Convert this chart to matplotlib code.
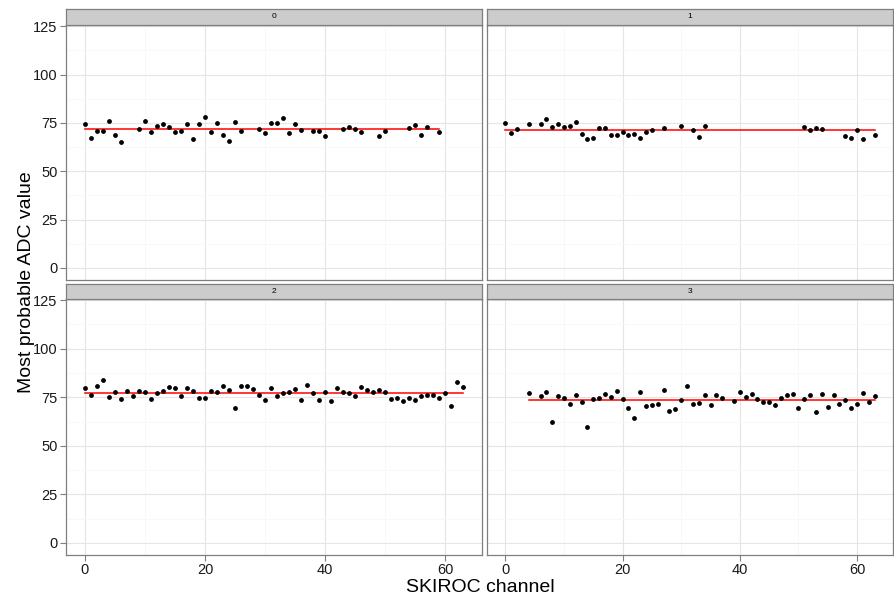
import numpy as np
import matplotlib
matplotlib.use("Agg")
from matplotlib import pyplot as plt

plt.rcParams['font.family'] = ['Liberation Sans', 'DejaVu Sans']

# 每个面板的数据 (channel, most probable ADC)
ch_0 = [0, 1, 2, 3, 4, 5, 6, 9, 10, 11, 12, 13, 14, 15, 16, 17, 18, 19, 20, 21, 22, 23, 24, 25, 26,
        29, 30, 31, 32, 33, 34, 35, 36, 38, 39, 40, 43, 44, 45, 46, 49, 50, 54, 55, 56, 57, 59]
adc_0 = [74.2, 67.3, 70.9, 70.9, 76.1, 68.9, 65.0, 71.6, 76.1, 70.4, 73.5, 74.2, 73.0, 70.4, 70.9,
         74.2, 66.8, 74.2, 78.2, 70.4, 75.1, 68.9, 65.5, 75.6, 70.9, 72.0, 69.9, 75.1, 75.1, 77.6,
         69.9, 74.5, 71.4, 70.9, 70.9, 68.3, 72.0, 73.0, 72.0, 70.4, 68.3, 70.9, 72.5, 74.0, 68.9,
         73.0, 70.4]

ch_1 = [0, 1, 2, 4, 6, 7, 8, 9, 10, 11, 12, 13, 14, 15, 16, 17, 18, 19, 20, 21, 22, 23, 24, 25,
        27, 30, 32, 33, 34, 51, 52, 53, 54, 58, 59, 60, 61, 63]
adc_1 = [74.7, 69.9, 71.6, 74.2, 74.2, 76.8, 73.0, 74.2, 73.0, 73.5, 75.6, 69.4, 66.5, 67.3, 72.2,
         72.5, 68.9, 68.9, 70.4, 68.9, 69.4, 67.3, 70.4, 71.4, 72.2, 73.5, 71.4, 67.8, 73.5, 73.0,
         71.4, 72.5, 72.0, 68.3, 67.3, 71.4, 66.8, 68.9]

ch_2 = list(range(0, 64))
adc_2 = [79.7, 76.4, 81.0, 84.1, 75.3, 77.6, 74.3, 78.1, 75.8, 78.4, 77.6, 74.3, 77.1, 78.4, 80.5,
         80.0, 75.8, 80.0, 78.1, 74.8, 74.8, 78.4, 77.6, 81.0, 78.9, 69.6, 81.0, 81.0, 79.5, 76.4,
         73.8, 80.0, 75.8, 77.1, 77.6, 79.5, 73.8, 81.5, 77.1, 73.8, 77.6, 73.2, 80.0, 77.6, 77.1,
         75.8, 80.5, 78.9, 77.6, 78.9, 77.6, 74.3, 74.8, 73.2, 74.8, 73.8, 75.8, 76.4, 76.4, 74.8,
         77.1, 70.7, 82.6, 80.5]

ch_3 = [4] + list(range(6, 38)) + list(range(39, 64))
adc_3 = [77.4,
         75.8, 77.9, 62.4, 75.8, 74.8, 71.7, 76.4, 72.7, 59.8, 74.3, 74.8, 76.9, 75.3, 78.4, 74.3,
         69.6, 64.4, 77.9, 70.7, 71.2, 71.7, 78.9, 68.1, 69.1, 73.8, 81.0,
         71.7, 72.2, 76.4, 71.2, 76.4, 74.8,
         73.2, 77.9, 75.3, 76.9, 74.3, 72.7, 72.7, 71.2, 74.8, 76.4, 76.9, 69.6, 74.3, 76.4, 67.5,
         76.9, 70.2, 76.4, 71.7, 73.8, 69.6, 71.7, 77.4, 72.7, 75.8]

# 拟合常数 (红线)
fit_level = [71.8, 71.3, 77.4, 73.6]
strip_labels = ["0", "1", "2", "3"]

chs = [ch_0, ch_1, ch_2, ch_3]
adcs = [adc_0, adc_1, adc_2, adc_3]

W, H = 894.0, 601.0
fig = plt.figure(figsize=(W / 100, H / 100), dpi=100)

# 面板位置 (像素): left, right, strip top, panel top, panel bottom
cols = [(66, 482), (487, 893)]
rows = [(9, 25, 280), (284, 299, 555)]

for k in range(4):
    r, c = k // 2, k % 2
    x0, x1 = cols[c]
    st, pt, pb = rows[r]
    ax = fig.add_axes([x0 / W, 1 - pb / H, (x1 - x0) / W, (pb - pt) / H])
    ax.set_xlim(-3.15, 66.15)
    ax.set_ylim(-6.25, 125.6)
    ax.set_xticks([0, 20, 40, 60])
    ax.set_xticks([10, 30, 50], minor=True)
    ax.set_yticks([0, 25, 50, 75, 100, 125])
    ax.set_yticks([12.5, 37.5, 62.5, 87.5, 112.5], minor=True)
    ax.grid(True, which='major', color='#E5E5E5', lw=0.8)
    ax.grid(True, which='minor', color='#F7F7F7', lw=0.6)
    ax.set_axisbelow(True)
    for s in ax.spines.values():
        s.set_color('#7F7F7F')
        s.set_linewidth(0.9)
    ax.tick_params(which='minor', length=0)
    ax.tick_params(which='major', length=4, color='#7F7F7F', width=0.8,
                   labelsize=10.5, labelcolor='#1a1a1a', pad=2)
    if r == 0:
        ax.tick_params(axis='x', length=0, labelbottom=False)
    if c == 1:
        ax.tick_params(axis='y', length=0, labelleft=False)

    ax.plot([min(chs[k]), max(chs[k])], [fit_level[k], fit_level[k]], color='red', lw=1.1, zorder=2)
    ax.scatter(chs[k], adcs[k], s=12, color='black', zorder=3, linewidths=0)

    # 灰色标题条
    sx = fig.add_axes([x0 / W, 1 - pt / H, (x1 - x0) / W, (pt - st) / H])
    sx.set_facecolor('#CCCCCC')
    sx.set_xticks([])
    sx.set_yticks([])
    for s in sx.spines.values():
        s.set_color('#7F7F7F')
        s.set_linewidth(0.9)
    sx.text(0.5, 0.5, strip_labels[k], ha='center', va='center', fontsize=6, transform=sx.transAxes)

fig.text(480 / W, 1 - 588 / H, "SKIROC channel", ha='center', va='center', fontsize=14)
fig.text(27 / W, 1 - 282 / H, "Most probable ADC value", ha='center', va='center',
         rotation=90, fontsize=14)

plt.savefig("out.png", dpi=100)
